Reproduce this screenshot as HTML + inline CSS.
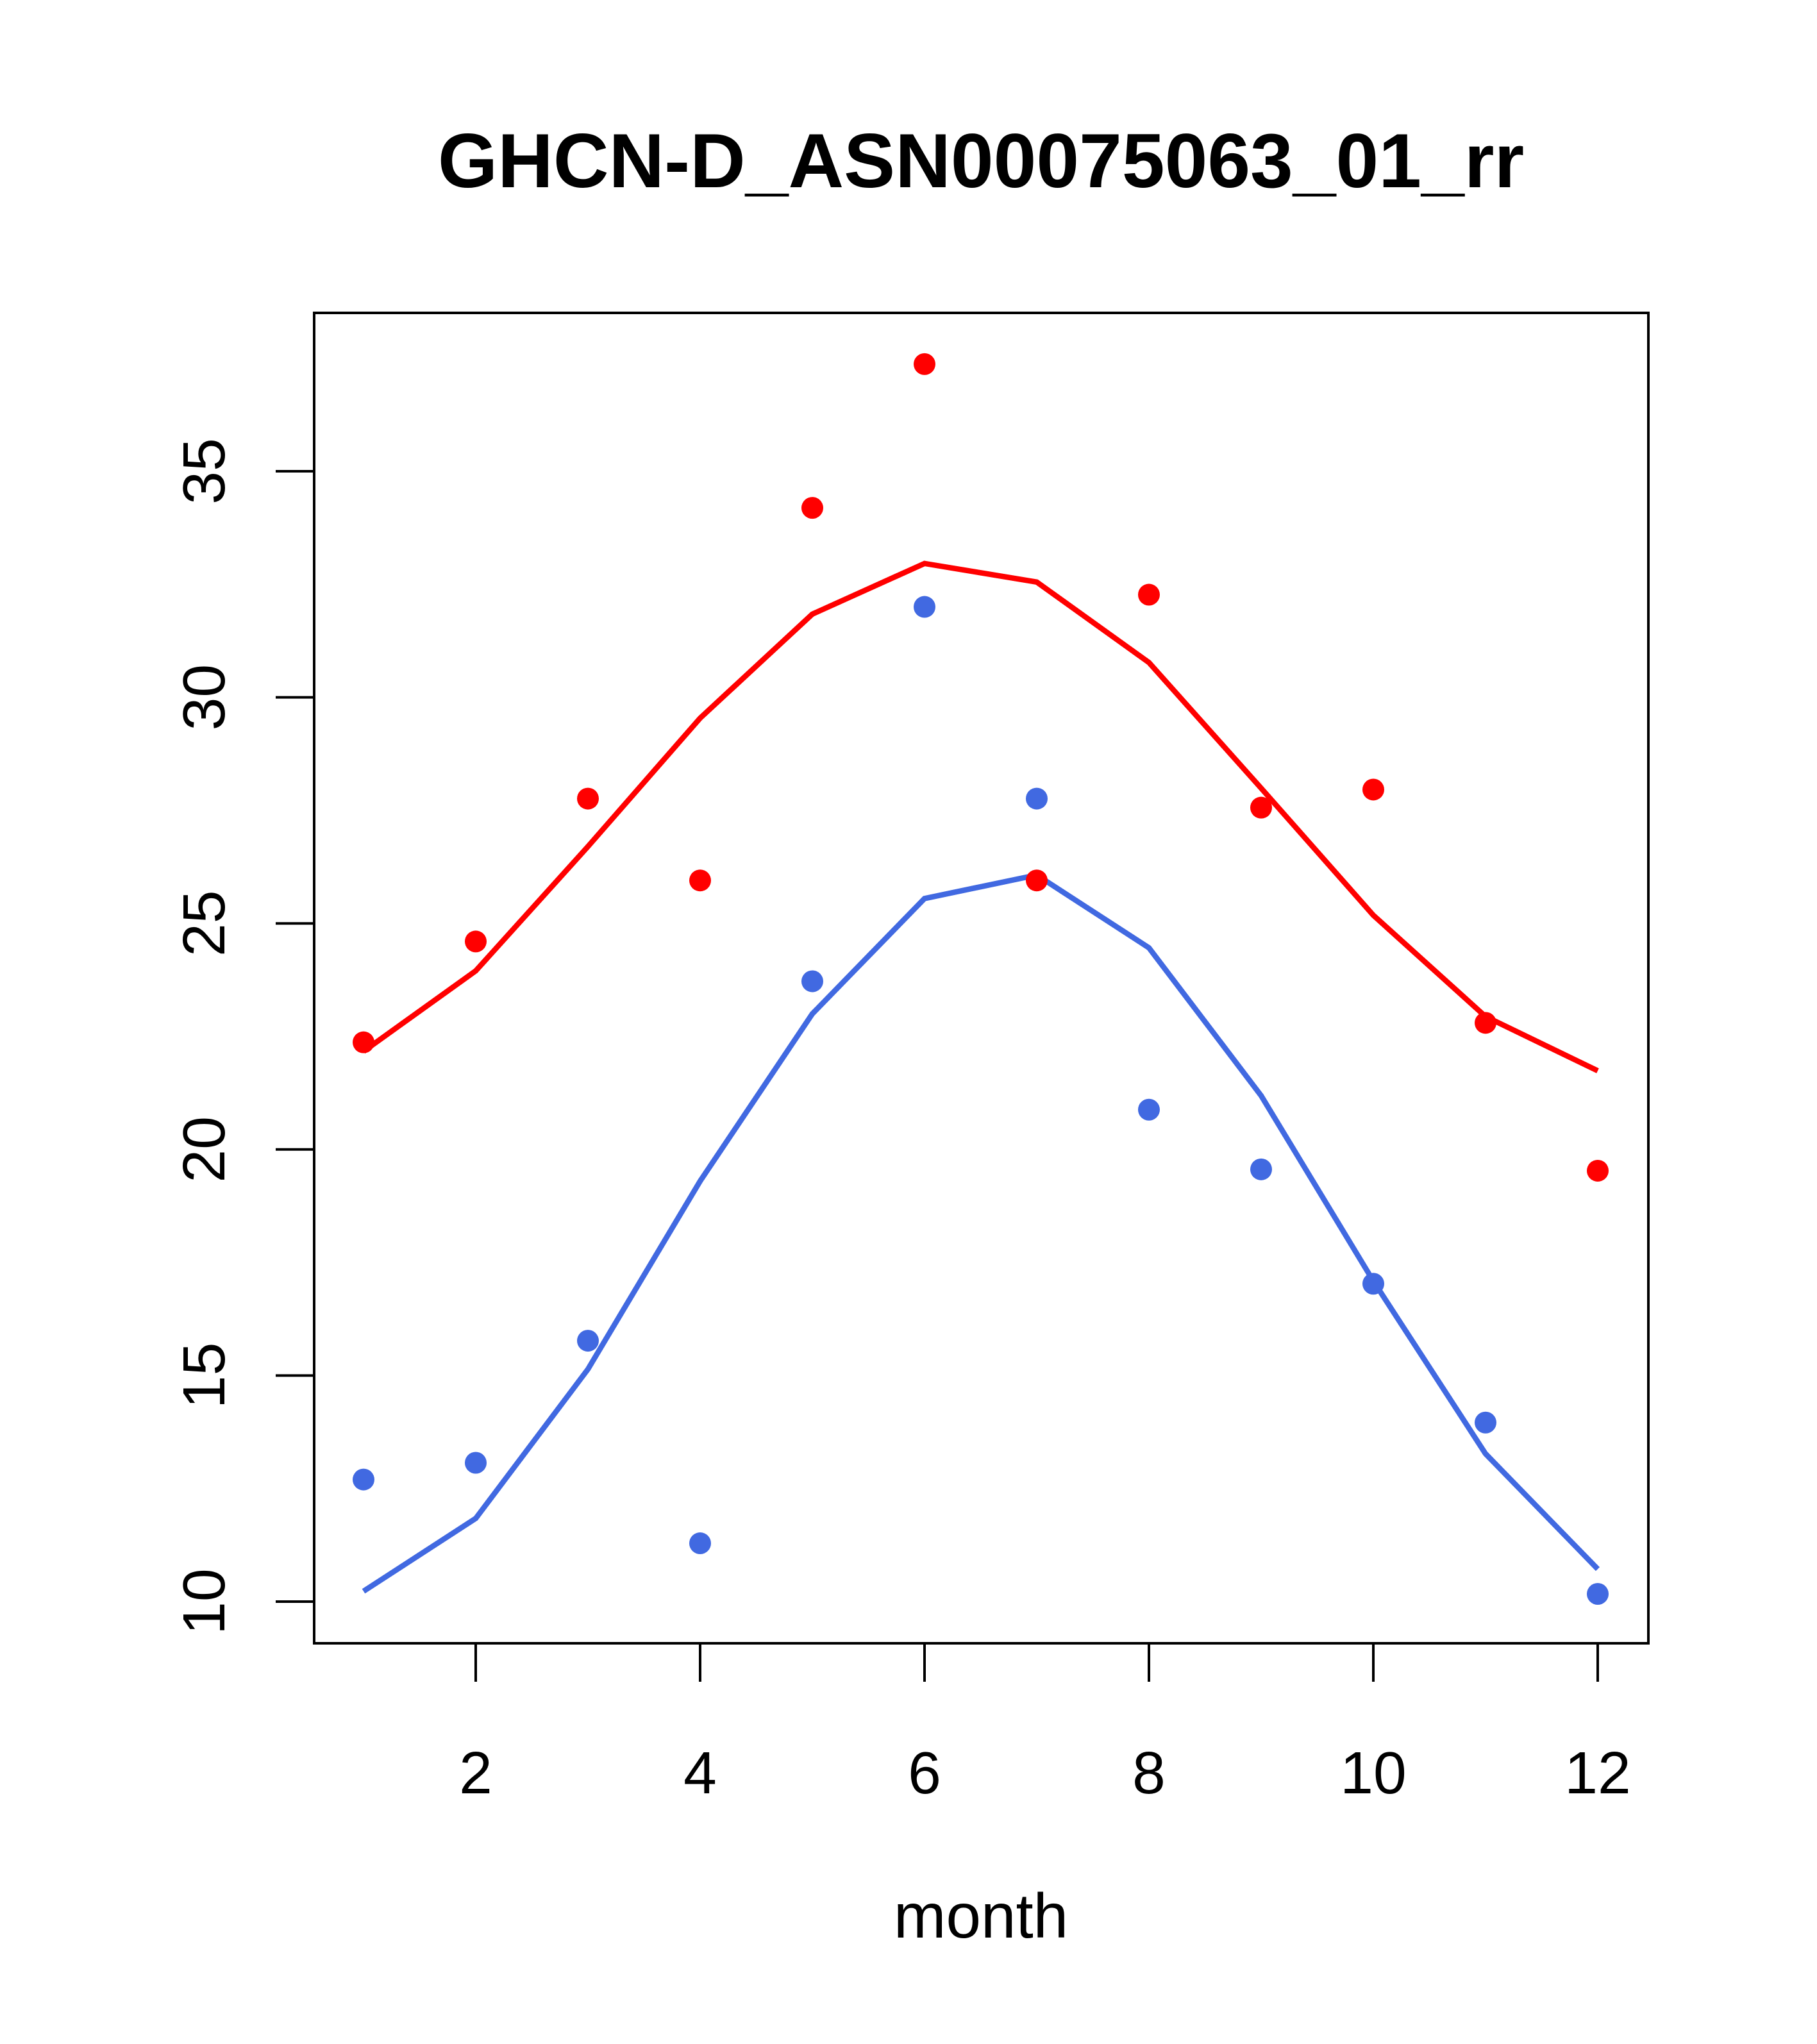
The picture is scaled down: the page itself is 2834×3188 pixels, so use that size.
<!DOCTYPE html>
<html><head><meta charset="utf-8"><style>
html,body{margin:0;padding:0;background:#fff;}
svg{display:block;font-family:"Liberation Sans",Arial,sans-serif;}
</style></head><body>
<svg id="chart" width="2834" height="3188" viewBox="0 0 2834 3188" xmlns="http://www.w3.org/2000/svg">
<rect width="2834" height="3188" fill="#fff"/>
<text x="1530" y="292" font-size="120" font-weight="bold" text-anchor="middle">GHCN-D_ASN00075063_01_rr</text>
<rect x="490" y="488" width="2081" height="2075" fill="none" stroke="#000" stroke-width="4"/>
<g id="xaxis"></g>
<g id="yaxis"></g>
<text x="1530" y="3022" font-size="98" text-anchor="middle">month</text>
<g id="series"></g>
</svg>
<script>
const months=[1,2,3,4,5,6,7,8,9,10,11,12];
const redPoints=[22.37,24.6,27.76,25.95,34.19,37.37,25.95,32.27,27.56,27.96,22.8,19.53];
const redLine=[22.17,23.95,26.7,29.54,31.84,32.96,32.55,30.77,27.99,25.18,22.94,21.74];
const bluePoints=[12.7,13.07,15.77,11.29,23.72,32.0,27.76,20.88,19.56,17.03,13.96,10.17];
const blueLine=[10.23,11.84,15.14,19.3,23.0,25.55,26.07,24.46,21.19,17.09,13.27,10.72];
const xTicks=[2,4,6,8,10,12];
const yTicks=[10,15,20,25,30,35];
const NS="http://www.w3.org/2000/svg";
function X(m){return 567+(m-1)*(2492-567)/11;}
function Y(v){return 2498-(v-10)*(2498-735)/25;}
function mk(t,a,p){const e=document.createElementNS(NS,t);for(const k in a)e.setAttribute(k,a[k]);p.appendChild(e);return e;}
const xa=document.getElementById('xaxis'),ya=document.getElementById('yaxis'),sg=document.getElementById('series');
mk('line',{x1:X(2),x2:X(12),y1:2563,y2:2563,stroke:'#000','stroke-width':4},xa);
xTicks.forEach(t=>{
  const l=mk('line',{x1:X(t),x2:X(t),y1:2563,y2:2623,stroke:'#000','stroke-width':4},xa);
  
  
  const tx=mk('text',{x:X(t),y:2797,'font-size':93,'text-anchor':'middle'},xa);
  tx.textContent=t;
  
  
});
mk('line',{x1:490,x2:490,y1:Y(10),y2:Y(35),stroke:'#000','stroke-width':4},ya);
yTicks.forEach(t=>{
  const l=mk('line',{x1:430,x2:490,y1:Y(t),y2:Y(t),stroke:'#000','stroke-width':4},ya);
  
  
  const tx=mk('text',{x:0,y:0,'font-size':93,'text-anchor':'middle',transform:`translate(350,${Y(t)}) rotate(-90)`},ya);
  tx.textContent=t;
  
  
});
function line(vals,col,name){
  const p=mk('polyline',{points:vals.map((v,i)=>X(months[i])+','+Y(v)).join(' '),fill:'none',stroke:col,'stroke-width':8.5},sg);
  
  
}
function pts(vals,col,name){
  vals.forEach((v,i)=>{
    const c=mk('circle',{cx:X(months[i]),cy:Y(v),r:17,fill:col},sg);
    
    
  });
}
line(redLine,'#ff0000','red-line');
line(blueLine,'#4169e1','blue-line');
pts(redPoints,'#ff0000','red-point');
pts(bluePoints,'#4169e1','blue-point');
</script>
</body></html>
